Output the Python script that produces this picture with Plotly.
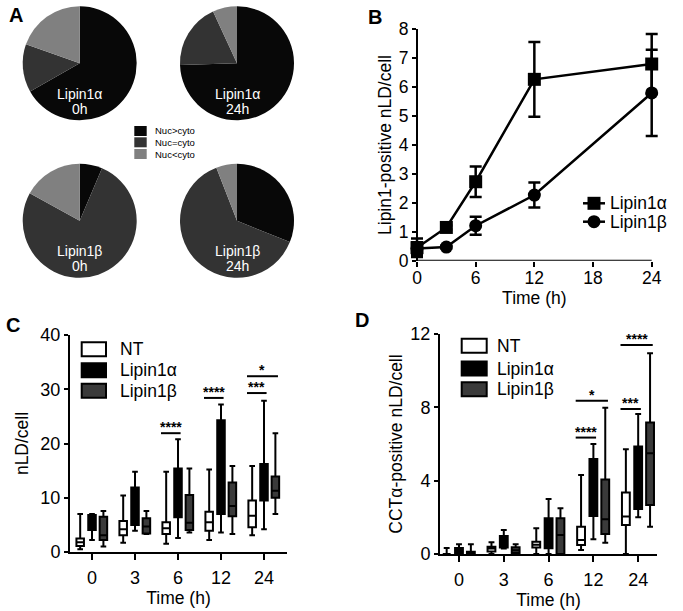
import plotly.graph_objects as go

W, H = 683, 611
def px(x):
    return x / W
def py(y):
    return 1 - y / H

FONT = "Liberation Sans, Arial, Helvetica, sans-serif"

# ---------------- Panel A data ----------------
pie_labels = ["Nuc>cyto", "Nuc=cyto", "Nuc<cyto"]
pie_colors = ["#080808", "#333333", "#808080"]
pie_names = [("Lipin1α", "0h"), ("Lipin1α", "24h"), ("Lipin1β", "0h"), ("Lipin1β", "24h")]
pie_alpha_0h = [66.8, 13.6, 19.6]
pie_alpha_24h = [74.5, 18.6, 6.9]
pie_beta_0h = [6.4, 76.6, 17.0]
pie_beta_24h = [31.1, 63.0, 5.9]

# ---------------- Panel B data ----------------
times_b = [0, 3, 6, 12, 24]
b_xticks = [0, 6, 12, 18, 24]
lipin_a_mean = [0.45, 1.15, 2.73, 6.27, 6.80]
lipin_a_err = [0.32, 0.07, 0.53, 1.29, 1.04]
lipin_b_mean = [0.42, 0.47, 1.21, 2.27, 5.80]
lipin_b_err = [0.22, 0.05, 0.31, 0.43, 1.49]

# ---------------- Panel C/D data ----------------
time_labels = ["0", "3", "6", "12", "24"]
groups = ["NT", "Lipin1α", "Lipin1β"]

# C: nLD/cell (lower whisker, q1, median, q3, upper whisker)
c_nt_low = [0.5, 1.7, 1.5, 2.2, 3.1]
c_nt_q1 = [1.1, 3.1, 3.3, 3.9, 4.55]
c_nt_med = [1.8, 4.2, 4.4, 5.5, 6.7]
c_nt_q3 = [2.5, 5.7, 5.5, 7.4, 9.5]
c_nt_high = [7.0, 10.4, 14.8, 15.2, 15.85]

c_a_low = [2.2, 3.9, 2.6, 3.6, 4.2]
c_a_q1 = [4.05, 5.0, 6.4, 7.0, 9.5]
c_a_med = [5.4, 8.5, 10.5, 13.0, 12.5]
c_a_q3 = [6.8, 11.9, 15.4, 24.3, 16.2]
c_a_high = [7.0, 14.8, 20.8, 27.2, 27.9]

c_b_low = [1.0, 3.3, 3.6, 3.3, 7.0]
c_b_q1 = [2.2, 3.4, 4.05, 6.6, 10.0]
c_b_med = [3.1, 4.7, 5.4, 8.5, 11.3]
c_b_q3 = [6.5, 6.2, 10.5, 12.8, 13.9]
c_b_high = [7.55, 7.55, 15.4, 15.85, 21.9]

# D: CCTα-positive nLD/cell
d_nt_low = [0, 0, 0, 0.22, 0]
d_nt_q1 = [0, 0.13, 0.35, 0.49, 1.58]
d_nt_med = [0, 0.3, 0.5, 0.76, 2.04]
d_nt_q3 = [0, 0.4, 0.67, 1.49, 3.35]
d_nt_high = [0.33, 0.64, 1.4, 4.31, 5.71]

d_a_low = [0, 0.3, 0, 0.8, 2.0]
d_a_q1 = [0, 0.36, 0.31, 2.07, 2.45]
d_a_med = [0.1, 0.7, 1.0, 3.0, 3.5]
d_a_q3 = [0.33, 0.98, 1.95, 5.18, 5.86]
d_a_high = [0.53, 1.31, 3.0, 6.0, 7.64]

d_b_low = [0, 0, 0, 0.62, 1.49]
d_b_q1 = [0, 0.05, 0, 1.09, 2.67]
d_b_med = [0, 0.2, 1.04, 1.9, 5.49]
d_b_q3 = [0.12, 0.37, 1.95, 4.07, 7.17]
d_b_high = [0.53, 0.53, 2.49, 7.98, 10.95]

# significance: (time index, group from, group to, y level, label)
sig_c = [(2, 0, 1, 21.9, "****"), (3, 0, 1, 28.4, "****"),
         (4, 0, 1, 29.3, "***"), (4, 0, 2, 32.4, "*")]
sig_d = [(3, 0, 1, 6.35, "****"), (3, 0, 2, 8.36, "*"),
         (4, 0, 1, 7.91, "***"), (4, 0, 2, 11.4, "****")]

box_fill = ["#ffffff", "#000000", "#3a3a3a"]
group_offset = [-0.275, 0.0, 0.265]

fig = go.Figure()

# ---------- Pies ----------
pie_data = [pie_alpha_0h, pie_alpha_24h, pie_beta_0h, pie_beta_24h]
pie_centers = [(79.7, 63.3), (237.0, 63.3), (79.7, 220.8), (237.0, 220.8)]
R = 57
for vals, (cx, cy) in zip(pie_data, pie_centers):
    fig.add_trace(go.Pie(
        labels=pie_labels, values=vals, sort=False, direction="clockwise",
        rotation=0, marker=dict(colors=pie_colors, line=dict(width=0)),
        textinfo="none", hoverinfo="skip", showlegend=False,
        domain=dict(x=[px(cx - R), px(cx + R)], y=[py(cy + R), py(cy - R)]),
    ))

# ---------- Panel B ----------
fig.add_trace(go.Scatter(
    x=times_b, y=lipin_a_mean, mode="lines+markers", name="Lipin1α",
    line=dict(color="black", width=2.5),
    marker=dict(symbol="square", size=13, color="black"),
    error_y=dict(type="data", array=lipin_a_err, color="black", thickness=2.5, width=6),
    xaxis="x", yaxis="y", showlegend=False, cliponaxis=False,
))
fig.add_trace(go.Scatter(
    x=times_b, y=lipin_b_mean, mode="lines+markers", name="Lipin1β",
    line=dict(color="black", width=2.5),
    marker=dict(symbol="circle", size=13, color="black"),
    error_y=dict(type="data", array=lipin_b_err, color="black", thickness=2.5, width=6),
    xaxis="x", yaxis="y", showlegend=False, cliponaxis=False,
))

# ---------- Panels C & D boxes ----------
c_stats = [
    (c_nt_low, c_nt_q1, c_nt_med, c_nt_q3, c_nt_high),
    (c_a_low, c_a_q1, c_a_med, c_a_q3, c_a_high),
    (c_b_low, c_b_q1, c_b_med, c_b_q3, c_b_high),
]
d_stats = [
    (d_nt_low, d_nt_q1, d_nt_med, d_nt_q3, d_nt_high),
    (d_a_low, d_a_q1, d_a_med, d_a_q3, d_a_high),
    (d_b_low, d_b_q1, d_b_med, d_b_q3, d_b_high),
]
for stats, xa, ya in [(c_stats, "x2", "y2"), (d_stats, "x3", "y3")]:
    for g, (lo, q1, med, q3, hi) in enumerate(stats):
        xs = [i + group_offset[g] for i in range(len(time_labels))]
        fig.add_trace(go.Box(
            x=xs, lowerfence=lo, q1=q1, median=med, q3=q3, upperfence=hi,
            name=groups[g], width=0.175, whiskerwidth=0.75,
            fillcolor=box_fill[g], line=dict(color="black", width=2),
            boxpoints=False, hoverinfo="skip", showlegend=False,
            xaxis=xa, yaxis=ya,
        ))

shapes = []
annotations = []

# x-axis line of panel B, spanning the first to the last tick only
shapes.append(dict(type="line", xref="x", yref="y", x0=b_xticks[0], x1=b_xticks[-1],
                   y0=0, y1=0, line=dict(color="black", width=2), layer="below"))

for sig, xa, ya in [(sig_c, "x2", "y2"), (sig_d, "x3", "y3")]:
    for ti, gf, gt, yv, lab in sig:
        x0 = ti + group_offset[gf] - 0.12
        x1 = ti + group_offset[gt] + 0.06
        shapes.append(dict(type="line", xref=xa, yref=ya, x0=x0, x1=x1, y0=yv, y1=yv,
                           line=dict(color="black", width=2)))
        annotations.append(dict(xref=xa, yref=ya, x=(x0 + x1) / 2, y=yv, text=f"<b>{lab}</b>",
                                showarrow=False, yanchor="bottom", xanchor="center",
                                yshift=-4, font=dict(family=FONT, size=14, color="black")))

# ---------- Pie labels ----------
for (l1, l2), (cx, cy) in zip(pie_names, pie_centers):
    for txt, dy in [(l1, 30.5), (l2, 45.5)]:
        annotations.append(dict(xref="paper", yref="paper", x=px(cx), y=py(cy + dy),
                                text=txt, showarrow=False, xanchor="center", yanchor="middle",
                                font=dict(family=FONT, size=14, color="white")))

# ---------- Legend A ----------
legA_rows = [131, 142.3, 154]
for lab, col, yc in zip(pie_labels, pie_colors, legA_rows):
    shapes.append(dict(type="rect", xref="paper", yref="paper",
                       x0=px(134.3), x1=px(146.7), y0=py(yc + 5), y1=py(yc - 5),
                       fillcolor=col, line=dict(width=0)))
    annotations.append(dict(xref="paper", yref="paper", x=px(152.5), y=py(yc),
                            text=lab.replace("<", "&lt;").replace(">", "&gt;"),
                            showarrow=False, xanchor="left", yanchor="middle",
                            font=dict(family=FONT, size=9.5, color="black")))

# ---------- Legend B ----------
legB_rows = [203.3, 221.7]
for nm, sym, yc in zip(["Lipin1α", "Lipin1β"], ["square", "circle"], legB_rows):
    shapes.append(dict(type="line", xref="paper", yref="paper", x0=px(583), x1=px(605),
                       y0=py(yc), y1=py(yc), line=dict(color="black", width=2.5)))
    shapes.append(dict(type="rect" if sym == "square" else "circle",
                       xref="paper", yref="paper",
                       x0=px(594 - 6.5), x1=px(594 + 6.5), y0=py(yc + 6.5), y1=py(yc - 6.5),
                       fillcolor="black", line=dict(width=0)))
    annotations.append(dict(xref="paper", yref="paper", x=px(608), y=py(yc), text=nm,
                            showarrow=False, xanchor="left", yanchor="middle",
                            font=dict(family=FONT, size=17.5, color="black")))

# ---------- Legends C, D ----------
for (rx0, rx1, rows, tx) in [(81.7, 106, [349.2, 370.2, 390.8], 118.3),
                             (461.7, 486.7, [345.8, 368.5, 389.2], 495)]:
    for g, yc in enumerate(rows):
        shapes.append(dict(type="rect", xref="paper", yref="paper",
                           x0=px(rx0), x1=px(rx1), y0=py(yc + 7), y1=py(yc - 7),
                           fillcolor=box_fill[g], line=dict(color="black", width=2)))
        annotations.append(dict(xref="paper", yref="paper", x=px(tx), y=py(yc), text=groups[g],
                                showarrow=False, xanchor="left", yanchor="middle",
                                font=dict(family=FONT, size=17.5, color="black")))

# ---------- Panel letters ----------
for letter, (lx, ly) in zip("ABCD", [(16, 15), (375, 17), (12.5, 325), (362, 320)]):
    annotations.append(dict(xref="paper", yref="paper", x=px(lx), y=py(ly), text=f"<b>{letter}</b>",
                            showarrow=False, xanchor="center", yanchor="middle",
                            font=dict(family=FONT, size=20, color="black")))

axis_common = dict(showgrid=False, zeroline=False, showline=True, linecolor="black",
                   linewidth=2, ticks="outside", tickwidth=2, tickcolor="black",
                   ticklen=5, automargin=False,
                   tickfont=dict(family=FONT, size=18, color="black"),
                   title_font=dict(family=FONT, size=17.5, color="black"))

# panel B: extend plotting area a little so end error-bar caps are not clipped
bx0, bx1 = 417.0, 651.7
bpad = 9
bscale = (bx1 - bx0) / (b_xticks[-1] - b_xticks[0])

fig.update_layout(
    width=W, height=H, margin=dict(l=0, r=0, t=0, b=0),
    paper_bgcolor="white", plot_bgcolor="rgba(0,0,0,0)", boxmode="overlay",
    font=dict(family=FONT, color="black"),
    xaxis=dict(axis_common, domain=[px(bx0 - bpad), px(bx1 + bpad)],
               range=[b_xticks[0] - bpad / bscale, b_xticks[-1] + bpad / bscale],
               tickvals=b_xticks, anchor="y", showline=False, ticklabelstandoff=-4,
               title=dict(text="Time (h)", standoff=1), tickfont=dict(family=FONT, size=17.5)),
    yaxis=dict(axis_common, domain=[py(260.7), py(29.3)], range=[0, 8], dtick=1,
               anchor="free", position=px(bx0),
               title=dict(text="Lipin1-positive nLD/cell", standoff=2), ticklen=4,
               tickfont=dict(family=FONT, size=17.5)),
    xaxis2=dict(axis_common, domain=[px(70), px(287)], range=[-0.512, 4.535],
                tickvals=list(range(len(time_labels))), ticktext=time_labels, anchor="y2",
                ticklen=6, ticklabelstandoff=2,
                title=dict(text="Time (h)", standoff=2)),
    yaxis2=dict(axis_common, domain=[py(552), py(335)], range=[0, 40], dtick=10, anchor="x2",
                ticklen=4, title=dict(text="nLD/cell", standoff=7)),
    xaxis3=dict(axis_common, domain=[px(440), px(657)], range=[-0.424, 4.42],
                tickvals=list(range(len(time_labels))), ticktext=time_labels, anchor="y3",
                ticklen=6, ticklabelstandoff=2,
                title=dict(text="Time (h)", standoff=2)),
    yaxis3=dict(axis_common, domain=[py(554), py(334)], range=[0, 12], dtick=4, anchor="x3",
                ticklen=4, title=dict(text="CCTα-positive nLD/cell", standoff=3)),
    shapes=shapes, annotations=annotations,
)

fig.write_html(
    "out.html",
    config={"displayModeBar": False},
    post_script="document.body.style.margin='0';document.body.style.padding='0';"
                "document.body.style.overflow='hidden';",
)
